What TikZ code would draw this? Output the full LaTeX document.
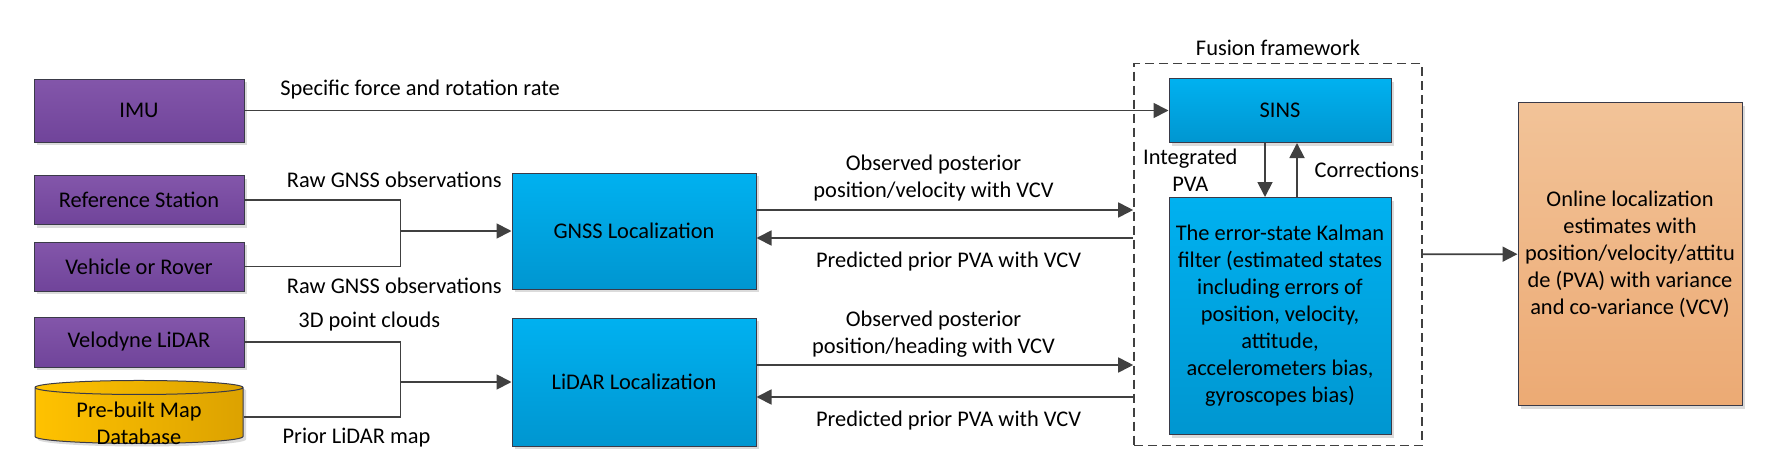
\documentclass[tikz,border=0pt]{standalone}
\usepackage{fontspec}
\setmainfont{Carlito}
\usepackage{xcolor}
\usepackage{tikz}
\usetikzlibrary{shapes.geometric, arrows.meta, shadows}
\definecolor{sensorTop}{RGB}{131,86,170}
\definecolor{sensorBot}{RGB}{112,68,154}
\definecolor{locTop}{RGB}{0,177,240}
\definecolor{locBot}{RGB}{0,150,208}
\definecolor{mapLeft}{RGB}{255,194,0}
\definecolor{mapRight}{RGB}{220,162,0}
\definecolor{outTop}{RGB}{242,195,152}
\definecolor{outBot}{RGB}{236,170,116}
\definecolor{wire}{RGB}{64,64,64}
\definecolor{rim}{RGB}{58,58,72}
\tikzstyle{boxshadow} = [drop shadow={shadow xshift=1.5pt, shadow yshift=-1.5pt, fill=black!14, opacity=1}]
\tikzstyle{sensor} = [rectangle, minimum width=105pt, minimum height=24.5pt, text centered, draw=rim, line width=0.5pt, top color=sensorTop, bottom color=sensorBot, boxshadow]
\tikzstyle{locbox} = [rectangle, minimum width=122pt, minimum height=58pt, text centered, align=center, draw=rim, line width=0.5pt, top color=locTop, bottom color=locBot, boxshadow]
\tikzstyle{database} = [cylinder, shape border rotate=90, aspect=1, inner sep=3.5pt, minimum width=104pt, minimum height=31.5pt, draw=rim, line width=0.5pt, left color=mapLeft, right color=mapRight, boxshadow]
\tikzstyle{result} = [rectangle, minimum width=112pt, minimum height=151.5pt, text centered, align=center, draw=rim, line width=0.5pt, top color=outTop, bottom color=outBot, boxshadow]
\tikzstyle{frame} = [rectangle, minimum width=144pt, minimum height=191pt, draw=wire, line width=0.8pt, dash pattern=on 4.5pt off 2.5pt]
\tikzstyle{line} = [draw=wire, line width=0.9pt]
\tikzstyle{arrow} = [line, -{Triangle[length=7.5pt, width=7.5pt]}]

\begin{document}
\begin{tikzpicture}[x=0.5pt, y=-0.5pt, node distance=36pt, font=\fontsize{11.2}{13.5}\selectfont]
        \useasboundingbox (0,0) rectangle (1774,471);
        \node (imu) [sensor, minimum height=31.5pt] at (139,110.5) {IMU};
        \node (ref) [sensor, below of=imu, yshift=-8.75pt] {Reference Station};
        \node (veh) [sensor, below of=ref, yshift=+2.75pt] {Vehicle or Rover};
        \node (velo) [sensor, below of=veh, yshift=-1.75pt, minimum height=25pt] {Velodyne LiDAR};
        \node (map) [database, below of=velo, yshift=-1.5pt, label={[yshift=-3pt, align=center]center:Pre-built Map\\Database}] {};
        \node (gnss) [locbox, right of=ref, xshift=211.5pt, yshift=-15.5pt] {GNSS Localization};
        \node (lidar) [locbox, below of=gnss, yshift=-39.5pt, minimum height=64pt] {LiDAR Localization};
        \node (sins) [locbox, right of=imu, xshift=534.5pt, minimum width=111pt, minimum height=32pt] {SINS};
        \node (eskf) [locbox, below of=sins, yshift=-66.75pt, minimum width=111pt, minimum height=118.5pt] {The error-state Kalman\\filter (estimated states\\including errors of\\position, velocity,\\attitude,\\accelerometers bias,\\gyroscopes bias)};
        \node (fusion) [frame, below of=sins, yshift=-36pt, xshift=-1pt, label=above:Fusion framework] {};
        \node (online) [result, right of=eskf, xshift=139pt, yshift=+31pt] {Online localization\\estimates with\\position/velocity/attitu\\de (PVA) with variance\\and co-variance (VCV)};

        \coordinate (gnssin) at ([xshift=-55.5pt]gnss.west);
        \coordinate (lidarin) at ([xshift=-55.5pt]lidar.west);
        \coordinate (gnssobs) at ([yshift=10.5pt]gnss.east);
        \coordinate (gnssprd) at ([yshift=-3.5pt]gnss.east);
        \coordinate (lidarobs) at ([yshift=8.5pt]lidar.east);
        \coordinate (lidarprd) at ([yshift=-7.5pt]lidar.east);

        \draw [arrow] (imu) -- node[above=2pt, pos=0.19] {Specific force and rotation rate} (sins);
        \draw [line] (ref.east) -| node[above=2.5pt, pos=0.48] {Raw GNSS observations} (gnssin);
        \draw [line] (veh.east) -| node[below=2pt, pos=0.48] {Raw GNSS observations} (gnssin);
        \draw [arrow] (gnssin) -- (gnss);
        \draw [line] (velo.east) -| node[above=1.5pt, pos=0.40] {3D point clouds} (lidarin);
        \draw [line] (map.east) -| node[below=1.75pt, pos=0.36] {Prior LiDAR map} (lidarin);
        \draw [arrow] (lidarin) -- (lidar);
        \draw [arrow] (gnssobs) -- node[above=0.5pt, pos=0.47, align=center] {Observed posterior\\position/velocity with VCV} (gnssobs -| fusion.west);
        \draw [arrow] (gnssprd -| fusion.west) -- node[below=3pt, pos=0.49] {Predicted prior PVA with VCV} (gnssprd);
        \draw [arrow] (lidarobs) -- node[above, pos=0.47, align=center] {Observed posterior\\position/heading with VCV} (lidarobs -| fusion.west);
        \draw [arrow] (lidarprd -| fusion.west) -- node[below=3pt, pos=0.49] {Predicted prior PVA with VCV} (lidarprd);
        \draw [arrow] ([xshift=-7.5pt]sins.south) -- node[left=10pt, align=center] {Integrated\\PVA} ([xshift=-7.5pt]eskf.north);
        \draw [arrow] ([xshift=8.5pt]eskf.north) -- node[right=5pt] {Corrections} ([xshift=8.5pt]sins.south);
        \draw [arrow] (fusion) -- (online);
     \end{tikzpicture}
\end{document}
